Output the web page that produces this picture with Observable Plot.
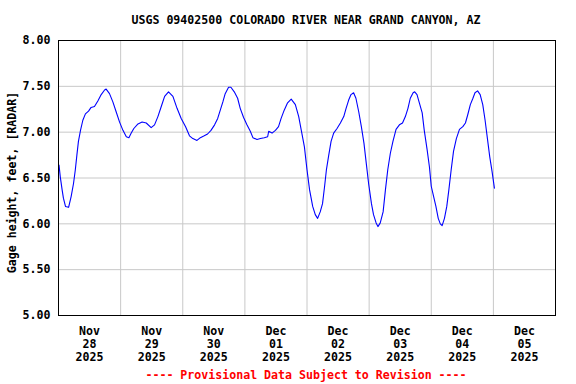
<!DOCTYPE html>
<html><head><meta charset="utf-8">
<script src="https://cdn.jsdelivr.net/npm/d3@7"></script>
<script src="https://cdn.jsdelivr.net/npm/@observablehq/plot@0.6"></script>
<style>
body{margin:0;background:#fff;}
#wrap{position:relative;width:576px;height:384px;overflow:hidden;background:#fff;font-family:"DejaVu Sans Mono",monospace;font-weight:bold;}
#title{position:absolute;left:36px;right:0;top:0;height:40px;line-height:40px;text-align:center;font-size:11.6px;color:#000;white-space:nowrap;}
#chart{position:absolute;left:0;top:32px;}
#foot{position:absolute;left:36px;right:0;top:366px;height:18px;line-height:18px;text-align:center;font-size:11.6px;color:#ff0000;white-space:nowrap;}
</style></head>
<body>
<div id="wrap">
<div id="title">USGS 09402500 COLORADO RIVER NEAR GRAND CANYON, AZ</div>
<div id="chart"></div>
<div id="foot">---- Provisional Data Subject to Revision ----</div>
</div>
<script>
// hours since 2025-11-28 00:00 (local station time)
const hours = [0.2,0.7,1.4,1.9,2.7,3.9,4.9,5.8,6.5,7.1,7.7,8.5,9.4,10.4,11.6,12.6,13.9,15.2,16.5,17.8,18.4,19.7,21.0,22.3,23.6,24.9,26.2,27.2,28.1,29.1,30.7,32.3,33.9,35.8,37.1,38.4,39.7,41.0,42.5,44.2,45.8,47.4,49.1,50.6,51.9,53.5,54.8,56.3,57.6,58.9,60.3,61.5,62.5,63.5,64.4,65.7,66.6,67.9,69.2,70.2,71.5,72.8,74.1,75.1,76.7,78.0,79.5,80.8,81.2,82.5,83.8,85.0,86.0,87.2,88.5,89.9,91.5,92.8,93.8,95.0,96.0,97.0,98.2,99.2,100.1,101.1,102.0,102.8,103.5,104.4,105.3,106.3,107.6,108.9,110.2,111.1,112.1,113.0,114.0,114.9,116.0,117.0,118.0,118.9,119.8,120.9,121.7,122.7,123.4,124.3,125.4,126.3,127.2,128.2,129.2,130.4,131.7,132.9,134.0,135.0,135.9,137.0,137.6,138.5,139.4,140.5,141.3,142.4,143.3,144.0,144.9,145.8,146.7,147.5,148.2,149.1,150.0,150.8,151.7,152.6,153.7,154.9,156.2,157.2,158.1,159.1,160.1,160.9,161.9,162.9,163.9,164.8,165.7,166.6,167.5,168.4];
const gage = [6.64,6.51,6.37,6.28,6.19,6.18,6.30,6.44,6.59,6.75,6.90,7.02,7.13,7.20,7.23,7.27,7.28,7.34,7.41,7.46,7.47,7.42,7.33,7.22,7.11,7.02,6.95,6.94,6.99,7.04,7.09,7.11,7.10,7.05,7.08,7.17,7.28,7.39,7.44,7.39,7.26,7.15,7.06,6.96,6.93,6.91,6.94,6.96,6.98,7.02,7.08,7.15,7.24,7.33,7.42,7.49,7.49,7.44,7.37,7.26,7.16,7.08,7.01,6.94,6.92,6.93,6.94,6.95,7.01,6.99,7.02,7.06,7.15,7.24,7.32,7.36,7.30,7.17,7.02,6.84,6.59,6.37,6.19,6.10,6.06,6.13,6.22,6.41,6.59,6.75,6.90,6.99,7.04,7.10,7.17,7.26,7.35,7.41,7.43,7.37,7.22,7.06,6.88,6.66,6.44,6.22,6.10,6.01,5.97,6.01,6.13,6.37,6.59,6.77,6.90,7.03,7.08,7.10,7.17,7.26,7.37,7.43,7.44,7.41,7.32,7.21,7.02,6.81,6.62,6.41,6.30,6.19,6.06,6.00,5.98,6.06,6.19,6.37,6.59,6.79,6.93,7.03,7.06,7.10,7.19,7.30,7.37,7.43,7.45,7.41,7.30,7.13,6.93,6.73,6.57,6.39];
const dayLabels = ["2025-11-28","2025-11-29","2025-11-30","2025-12-01","2025-12-02","2025-12-03","2025-12-04","2025-12-05"];
const yTicks = [5.0,5.5,6.0,6.5,7.0,7.5,8.0];
const yLabel = "Gage height, feet, [RADAR]";

const start = Date.UTC(2025,10,28);
const data = hours.map((h,i)=>({t:new Date(start + h*3600e3), v:gage[i]}));
const x0 = new Date(Date.UTC(2025,10,28));
const x1 = new Date(Date.UTC(2025,11,6));
const gridDays = d3.utcDay.range(x0, new Date(+x1 + 1));
const labelDays = dayLabels.map(d => new Date(d + "T12:00:00Z"));
const fmt = d3.utcFormat("%b\n%d\n%Y");

const chart = Plot.plot({
  width: 576, height: 334,
  marginLeft: 58, marginRight: 21, marginTop: 8, marginBottom: 51,
  style: {fontFamily: "'DejaVu Sans Mono', monospace", fontSize: "11.6px", fontWeight: "bold", color: "#000", background: "#fff"},
  x: {type: "utc", domain: [x0, x1]},
  y: {domain: [5, 8]},
  marks: [
    Plot.gridY(yTicks, {stroke: "#c8c8c8", strokeOpacity: 1}),
    Plot.gridX(gridDays, {stroke: "#c8c8c8", strokeOpacity: 1}),
    Plot.axisY(yTicks, {tickSize: 0, tickPadding: 8, tickFormat: d3.format(".2f"), label: null}),
    Plot.text([yLabel], {frameAnchor: "left", text: d => d, rotate: -90, dx: -46, dy: 4.5, fontSize: 11.6, fontWeight: "bold", fill: "#000", textAnchor: "middle", lineAnchor: "middle"}),
    Plot.axisX(labelDays, {tickSize: 0, tickPadding: 10, tickFormat: d => fmt(d), lineHeight: 1.13, label: null}),
    Plot.line(data, {x: "t", y: "v", stroke: "#0000ff", strokeWidth: 1.1}),
    Plot.frame({stroke: "#000"})
  ]
});
document.getElementById("chart").appendChild(chart);
</script>
</body></html>
